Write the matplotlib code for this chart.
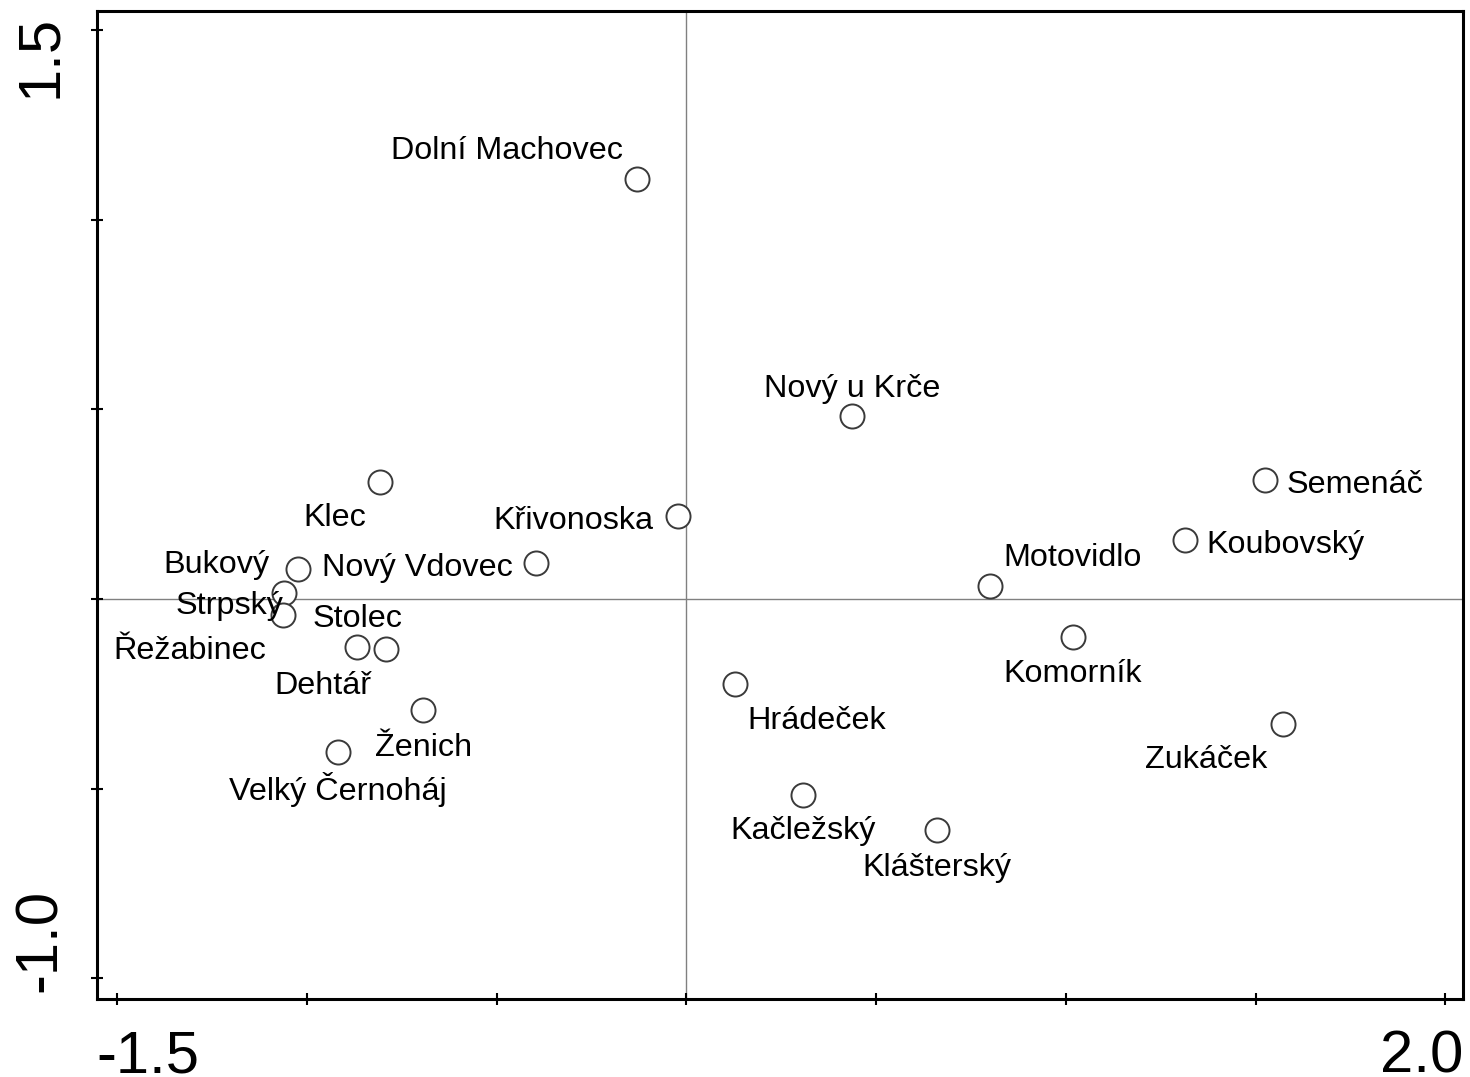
import numpy as np
import matplotlib
matplotlib.use("Agg")
import matplotlib.pyplot as plt

plt.rcParams['font.family'] = ['Liberation Sans', 'DejaVu Sans']

# site scores (ordination axis 1 / axis 2)
sites = ['Dolní Machovec', 'Nový u Krče', 'Semenáč', 'Koubovský', 'Motovidlo',
         'Komorník', 'Zukáček', 'Hrádeček', 'Kačležský', 'Klášterský',
         'Křivonoska', 'Klec', 'Nový Vdovec', 'Bukový', 'Strpský',
         'Stolec', 'Řežabinec', 'Dehtář', 'Ženich', 'Velký Černoháj']
ax1 = [-0.131, 0.436, 1.524, 1.313, 0.799,
       1.018, 1.572, 0.128, 0.307, 0.660,
       -0.023, -0.808, -0.397, -1.024, -1.061,
       -1.064, -0.868, -0.792, -0.694, -0.919]
ax2 = [1.108, 0.483, 0.314, 0.156, 0.034,
       -0.100, -0.330, -0.224, -0.517, -0.609,
       0.219, 0.309, 0.095, 0.079, 0.016,
       -0.042, -0.127, -0.132, -0.293, -0.404]

# label placement (offset in pixels, horizontal alignment)
label_pos = [(-130, 28, 'center'), (0, 27, 'center'), (22, -5, 'left'), (22, -5, 'left'), (83, 28, 'center'),
             (0, -37, 'center'), (-77, -36, 'center'), (82, -37, 'center'), (0, -36, 'center'), (0, -38, 'center'),
             (-24, -5, 'right'), (-45, -36, 'center'), (-23, -5, 'right'), (-28, 4, 'right'), (-54, -13, 'center'),
             (30, -4, 'left'), (-91, -4, 'right'), (-63, -37, 'center'), (0, -38, 'center'), (0, -37, 'center')]

xlim = (-1.554, 2.047)
ylim = (-1.056, 1.552)

fig = plt.figure(figsize=(14.7, 10.77), dpi=100)
ax = fig.add_axes([0.0658, 0.0721, 0.9296, 0.9180])

ax.axhline(0, color='#808080', lw=1.0, zorder=1)
ax.axvline(0, color='#808080', lw=1.0, zorder=1)

ax.scatter(ax1, ax2, s=300, facecolor='white', edgecolor='#3a3a3a', linewidth=1.4, zorder=3)

for name, x, y, (dx, dy, ha) in zip(sites, ax1, ax2, label_pos):
    ax.annotate(name, (x, y), xytext=(dx, dy), textcoords='offset pixels',
                ha=ha, va='center', fontsize=23.3, color='black', zorder=4)

ax.set_xlim(*xlim)
ax.set_ylim(*ylim)
ax.set_xticks(np.arange(-1.5, 2.01, 0.5))
ax.set_yticks(np.arange(-1.0, 1.51, 0.5))
ax.set_xticklabels([])
ax.set_yticklabels([])
ax.tick_params(direction='inout', length=8, width=1.5, color='black')
for sp in ax.spines.values():
    sp.set_linewidth(2.2)
    sp.set_color('black')

# axis range labels at the ends of each axis
ax.annotate('-1.5', (0, 0), xycoords='axes fraction', xytext=(0, -30), textcoords='offset pixels',
            ha='left', va='top', fontsize=43)
ax.annotate('2.0', (1, 0), xycoords='axes fraction', xytext=(0, -30), textcoords='offset pixels',
            ha='right', va='top', fontsize=43)
ax.annotate('1.5', (0, 1), xycoords='axes fraction', xytext=(-29, -4), textcoords='offset pixels',
            ha='right', va='top', fontsize=43, rotation=90)
ax.annotate('-1.0', (0, 0), xycoords='axes fraction', xytext=(-29, 7), textcoords='offset pixels',
            ha='right', va='bottom', fontsize=43, rotation=90)

fig.savefig('out.png', dpi=100)
